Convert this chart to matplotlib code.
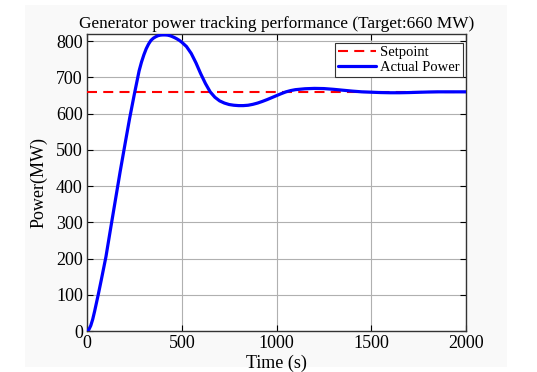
import matplotlib
matplotlib.use("Agg")
import matplotlib.pyplot as plt
from matplotlib.patches import Rectangle

# Data
time_s = [0, 10, 20, 30, 40, 50, 60, 75, 100, 125, 150, 175, 200, 225, 250,
          275, 287.5, 300, 312.5, 325, 337.5, 350, 362.5, 375, 387.5, 400,
          412.5, 425, 437.5, 450, 462.5, 475, 487.5, 500, 525, 550, 575, 600,
          625, 650, 675, 700, 725, 750, 775, 800, 825, 850, 875, 900, 925, 950,
          975, 1000, 1025, 1050, 1075, 1100, 1150, 1200, 1250, 1300, 1350,
          1400, 1450, 1500, 1550, 1600, 1650, 1700, 1750, 1800, 1850, 1900,
          1950, 2000]
power_mw = [0, 4, 15, 32, 54, 78, 102, 140, 205, 284, 362, 440, 514, 587, 654,
            718, 742, 762, 779, 792, 802, 808, 812, 815, 816.5, 817,
            817, 816.5, 815, 812.5, 809.5, 806, 802, 797, 785, 766, 740, 710,
            683, 660, 645, 635, 629, 625, 623, 622, 622, 623, 625.5, 629, 633.5, 638.5,
            644, 649.5, 655, 660, 663.5, 666, 668.5, 669.5, 669, 667, 664.5,
            662, 660, 659, 658, 657.5, 657.5, 658, 658.8, 659.5, 660, 660,
            660, 660]
setpoint_mw = 660
x_ticks = [0, 500, 1000, 1500, 2000]
y_ticks = [0, 100, 200, 300, 400, 500, 600, 700, 800]

plt.rcParams['font.family'] = ['Liberation Serif', 'DejaVu Serif']

fig = plt.figure(figsize=(5.37, 3.72), dpi=100)
fig.patch.set_facecolor('white')
fig.patches.append(Rectangle((25 / 537, 1 - 367 / 372), 482 / 537, 362 / 372,
                             transform=fig.transFigure, facecolor='#f9f9f9',
                             edgecolor='none', zorder=-10))

ax = fig.add_axes([87 / 537, 1 - 331 / 372, 379 / 537, 297.5 / 372])
ax.set_facecolor('white')

ax.plot([0, 2000], [setpoint_mw, setpoint_mw], color='red', linestyle='--',
        linewidth=1.5, dashes=(4.8, 3), label='Setpoint', zorder=3)
ax.plot(time_s, power_mw, color='blue', linewidth=2.3, label='Actual Power',
        zorder=4, solid_joinstyle='round', solid_capstyle='round')

ax.set_xlim(0, 2000)
ax.set_ylim(0, 821)
ax.set_xticks(x_ticks)
ax.set_yticks(y_ticks)
ax.tick_params(direction='in', top=True, right=True, labelsize=13, length=4,
               width=0.8, pad=3)
ax.grid(True, color='#b0b0b0', linewidth=0.8)
for sp in ax.spines.values():
    sp.set_linewidth(1.0)
    sp.set_color('#333333')

ax.set_title('Generator power tracking performance (Target:660 MW)',
             fontsize=12.4, pad=4)
ax.set_xlabel('Time (s)', fontsize=13, labelpad=2)
ax.set_ylabel('Power(MW)', fontsize=13, labelpad=6)

leg = ax.legend(loc='upper right', bbox_to_anchor=(0.992, 0.968),
                fontsize=10.5, fancybox=False, edgecolor='#333333',
                framealpha=1, handlelength=2.6, borderpad=0.2,
                labelspacing=0.1, handletextpad=0.3, borderaxespad=0.0)
leg.get_frame().set_linewidth(0.8)

fig.savefig('out.png', dpi=100)
